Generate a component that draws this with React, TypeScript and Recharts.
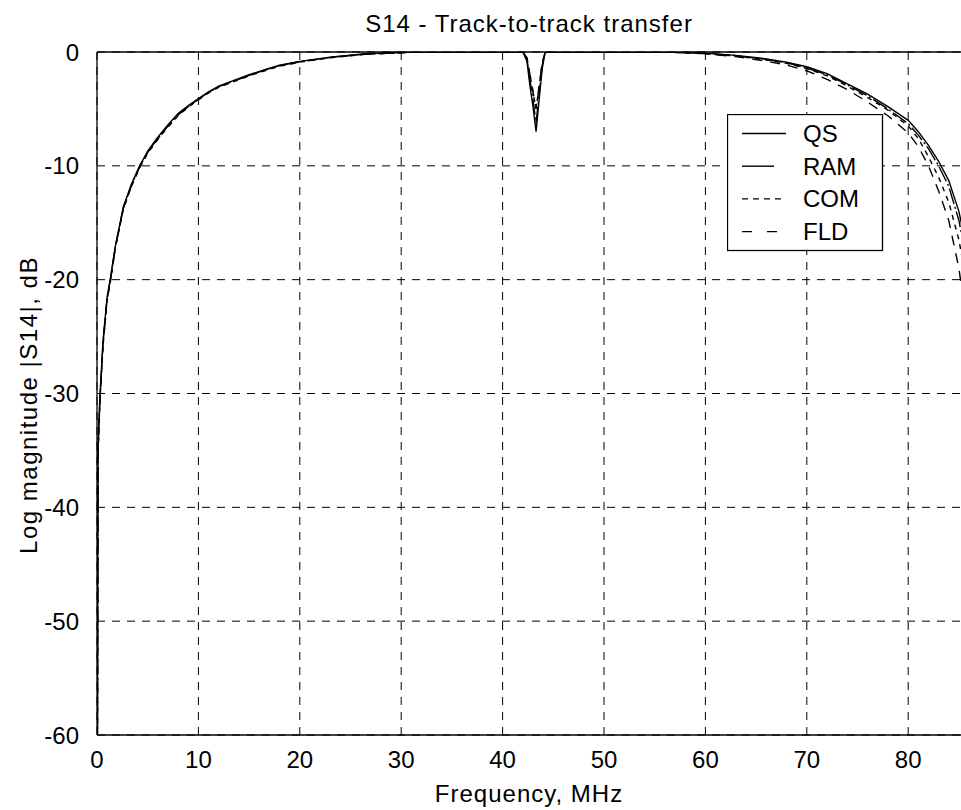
import React from "react"
import { LineChart, Line, XAxis, YAxis, CartesianGrid, Legend } from "recharts"

const FONT = "'Liberation Sans', Arial, sans-serif"

const freq = [
  0, 0.1, 0.3, 0.6, 1.0, 1.3, 1.8, 2.6, 3.4, 4.2,
  5.0, 5.9, 6.9, 8.0, 9.0, 10, 11, 12, 13.5, 15,
  16.7, 18, 20, 23, 26.5, 30, 31, 36, 42, 42.4,
  42.7, 43.0, 43.3, 43.6, 43.9, 44.2, 45, 50, 56, 60,
  63, 66, 68, 70, 72, 74, 76, 78, 80, 81,
  82, 83, 84, 85, 85.7,
]

const qs = [
  -80, -34.5, -30, -25.3, -21.5, -20, -17.1, -13.6, -11.6, -10,
  -8.7, -7.6, -6.5, -5.4, -4.7, -4.1, -3.5, -3.0, -2.5, -2.0,
  -1.5, -1.15, -0.82, -0.45, -0.15, -0.05, 0, 0, 0, -0.8,
  -3.0, -4.8, -7.0, -4.2, -1.5, 0, 0, 0, 0, -0.1,
  -0.3, -0.6, -0.9, -1.3, -1.9, -2.8, -3.7, -4.8, -6.0, -7.0,
  -8.2, -9.6, -11.3, -14.0, -17.0,
]

const ram = [
  -80, -34.8, -30.2, -25.5, -21.6, -20.1, -17.2, -13.7, -11.7, -10.1,
  -8.8, -7.7, -6.6, -5.5, -4.8, -4.15, -3.55, -3.05, -2.55, -2.05,
  -1.55, -1.2, -0.85, -0.47, -0.17, -0.06, 0, 0, 0, -0.6,
  -2.5, -4.2, -6.2, -3.8, -1.2, 0, 0, 0, 0, -0.12,
  -0.32, -0.65, -0.95, -1.4, -2.0, -2.9, -3.85, -5.0, -6.3, -7.3,
  -8.5, -10.0, -11.8, -14.8, -18.0,
]

const com = [
  -80, -35.5, -30.6, -25.8, -21.8, -20.3, -17.3, -13.8, -11.8, -10.2,
  -8.9, -7.8, -6.7, -5.6, -4.85, -4.2, -3.6, -3.1, -2.6, -2.1,
  -1.6, -1.25, -0.9, -0.5, -0.2, -0.07, 0, 0, 0, -0.5,
  -2.0, -3.5, -5.0, -3.0, -1.0, 0, 0, 0, 0, -0.15,
  -0.35, -0.7, -1.0, -1.45, -2.1, -3.0, -4.0, -5.1, -6.5, -7.6,
  -9.2, -11.0, -13.2, -16.5, -20.0,
]

const fld = [
  -80, -35.2, -30.4, -25.6, -21.7, -20.2, -17.2, -13.7, -11.7, -10.1,
  -8.8, -7.7, -6.6, -5.5, -4.8, -4.15, -3.55, -3.05, -2.55, -2.05,
  -1.55, -1.2, -0.87, -0.48, -0.18, -0.06, 0, 0, 0, -0.5,
  -2.0, -3.5, -5.0, -3.0, -1.0, 0, 0, 0, 0, -0.15,
  -0.4, -0.8, -1.15, -1.65, -2.4, -3.3, -4.4, -5.6, -7.1, -8.3,
  -10.0, -12.2, -14.8, -19.0, -23.5,
]

const xTicks = [0, 10, 20, 30, 40, 50, 60, 70, 80]
const yTicks = [-60, -50, -40, -30, -20, -10, 0]

const SERIES = [
  { key: "qs", name: "QS", dash: undefined, legendDash: undefined, legendLen: 44 },
  { key: "ram", name: "RAM", dash: "16 3 2 3", legendDash: undefined, legendLen: 32 },
  { key: "com", name: "COM", dash: "5 5", legendDash: "6 5", legendLen: 42 },
  { key: "fld", name: "FLD", dash: "10 8", legendDash: "10 15", legendLen: 35 },
]

const rows = freq.map((f, i) => ({ f, qs: qs[i], ram: ram[i], com: com[i], fld: fld[i] }))

const tickStyle = { fill: "#000", fontSize: 24, fontFamily: FONT }

function LegendBox() {
  return (
    <svg width={157} height={138} style={{ display: "block" }}>
      <rect x={0.5} y={0.5} width={155} height={136} fill="#fff" stroke="#000" strokeWidth={1.3} />
      {SERIES.map((s, i) => {
        const y = 19.5 + i * 32.7
        return (
          <g key={s.key}>
            <line x1={15} x2={15 + s.legendLen} y1={y} y2={y} stroke="#000" strokeWidth={1.4} strokeDasharray={s.legendDash} />
            <text x={76} y={y + 8.5} fontFamily={FONT} fontSize={24} fill="#000">{s.name}</text>
          </g>
        )
      })}
    </svg>
  )
}

export default function App() {
  return (
    <div style={{ position: "absolute", left: 0, top: 0, width: 961, height: 810, overflow: "hidden", background: "#fff" }}>
      <LineChart width={966} height={810} data={rows} margin={{ top: 0, right: 0, bottom: 0, left: 0 }}>
        <CartesianGrid stroke="#000" strokeWidth={1} strokeDasharray="8 7" />
        <XAxis
          dataKey="f"
          type="number"
          domain={[0, 85.7]}
          ticks={xTicks}
          allowDataOverflow
          height={75}
          tickLine={false}
          tickMargin={10}
          axisLine={{ stroke: "#000", strokeWidth: 1.3 }}
          tick={tickStyle}
          label={{
            content: () => (
              <text x={529} y={802} textAnchor="middle" fontFamily={FONT} fontSize={24} letterSpacing={1} fill="#000">
                Frequency, MHz
              </text>
            ),
          }}
        />
        <XAxis
          xAxisId="top"
          orientation="top"
          dataKey="f"
          type="number"
          domain={[0, 85.7]}
          ticks={xTicks}
          allowDataOverflow
          height={52}
          tick={false}
          tickLine={false}
          axisLine={{ stroke: "#000", strokeWidth: 1.3 }}
          label={{
            content: () => (
              <text x={529} y={32} textAnchor="middle" fontFamily={FONT} fontSize={24} letterSpacing={1} fill="#000">
                S14 - Track-to-track transfer
              </text>
            ),
          }}
        />
        <YAxis
          type="number"
          domain={[-60, 0]}
          ticks={yTicks}
          allowDataOverflow
          width={97}
          tickLine={false}
          tickMargin={12}
          axisLine={{ stroke: "#000", strokeWidth: 1.3 }}
          tick={tickStyle}
          label={{
            content: () => (
              <text x={37} y={405} transform="rotate(-90 37 405)" textAnchor="middle" fontFamily={FONT} fontSize={24} letterSpacing={1.5} fill="#000">
                Log magnitude |S14|, dB
              </text>
            ),
          }}
        />
        <Legend
          layout="horizontal"
          align="center"
          verticalAlign="middle"
          wrapperStyle={{ position: "absolute", left: 727, top: 114, width: 157, height: 138 }}
          content={() => <LegendBox />}
        />
        {SERIES.map((s) => (
          <Line
            key={s.key}
            dataKey={s.key}
            name={s.name}
            type="linear"
            stroke="#000"
            strokeWidth={1.4}
            strokeDasharray={s.dash}
            dot={false}
            activeDot={false}
            isAnimationActive={false}
          />
        ))}
      </LineChart>
    </div>
  )
}
